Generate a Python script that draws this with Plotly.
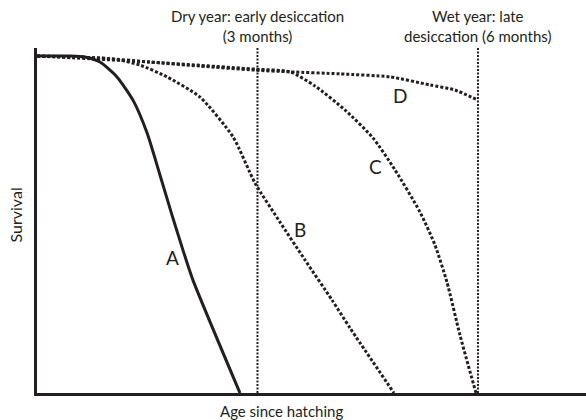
import plotly.graph_objects as go

INK = "#231f20"

# Survival curves (x = age in months, y = survival proportion)
a_age = [0, 0.449, 0.653, 0.857, 1.088, 1.306, 1.497, 1.673, 1.837, 1.986, 2.122, 2.762]
a_surv = [1.0, 1.0, 0.997, 0.982, 0.938, 0.869, 0.772, 0.647, 0.528, 0.424, 0.335, 0.0]

b_age = [0, 0.585, 1.129, 1.401, 1.769, 2.218, 2.667, 2.966, 3.306, 3.646, 4.014, 4.259, 4.857]
b_surv = [1.0, 0.997, 0.988, 0.973, 0.938, 0.878, 0.760, 0.623, 0.507, 0.395, 0.276, 0.193, 0.0]

c_age = [0, 1.537, 2.966, 3.442, 3.782, 4.190, 4.571, 4.871, 5.211, 5.415, 5.578, 5.755, 5.973]
c_surv = [1.0, 0.982, 0.961, 0.953, 0.911, 0.840, 0.757, 0.662, 0.537, 0.439, 0.329, 0.172, 0.0]

d_age = [0, 0.857, 1.537, 2.218, 2.966, 3.442, 4.122, 4.803, 5.347, 5.687, 6.0]
d_surv = [1.0, 0.994, 0.982, 0.970, 0.958, 0.953, 0.947, 0.938, 0.914, 0.899, 0.869]

# Desiccation times (months)
desic_months = [3, 6]
desic_labels = ["Dry year: early desiccation<br>(3 months)", "Wet year: late<br>desiccation (6 months)"]

# Curve labels
curve_names = ["A", "B", "C", "D"]
label_age = [1.850, 3.578, 4.599, 4.939]
label_surv = [0.401, 0.484, 0.671, 0.884]

x_max = 7.47
y_max = 1.0237

fig = go.Figure()

dot = "3px,2px"
fig.add_trace(go.Scatter(x=a_age, y=a_surv, mode="lines",
                         line=dict(color=INK, width=3, shape="spline", smoothing=0.6)))
for xs, ys in [(b_age, b_surv), (c_age, c_surv), (d_age, d_surv)]:
    fig.add_trace(go.Scatter(x=xs, y=ys, mode="lines",
                             line=dict(color=INK, width=3, dash=dot, shape="spline", smoothing=0.6)))

for m in desic_months:
    fig.add_trace(go.Scatter(x=[m, m], y=[0, y_max], mode="lines",
                             line=dict(color=INK, width=2, dash="2px,1.5px")))

annotations = []
for m, t in zip(desic_months, desic_labels):
    annotations.append(dict(x=m, y=1.0, xref="x", yref="paper", yanchor="bottom",
                            yshift=1, text=t, showarrow=False,
                            font=dict(family="Lato", size=15, color=INK)))
for n, xa, ya in zip(curve_names, label_age, label_surv):
    annotations.append(dict(x=xa, y=ya, xref="x", yref="y", text=n, showarrow=False,
                            font=dict(family="Lato", size=19, color=INK)))

annotations.append(dict(x=(281 - 37) / 549, y=0, xref="paper", yref="paper",
                        yanchor="top", yshift=-7, text="Age since hatching", showarrow=False,
                        font=dict(family="Lato", size=15, color=INK)))
annotations.append(dict(x=0, y=(393 - 215) / 345, xref="paper", yref="paper",
                        xanchor="right", xshift=-11, text="Survival", textangle=-90,
                        showarrow=False, font=dict(family="Lato", size=16, color=INK)))

fig.update_layout(
    width=586, height=420,
    margin=dict(l=37, r=0, t=48, b=27),
    paper_bgcolor="white", plot_bgcolor="white",
    showlegend=False,
    annotations=annotations,
    xaxis=dict(range=[0, x_max], showgrid=False, zeroline=False, showticklabels=False,
               ticks="", showline=True, linecolor=INK, linewidth=2.5),
    yaxis=dict(range=[0, y_max], showgrid=False, zeroline=False, showticklabels=False,
               ticks="", showline=True, linecolor=INK, linewidth=2.5),
)

fig.write_html("out.html", config={"displayModeBar": False},
               post_script="document.body.style.margin='0';document.body.style.padding='0';")
